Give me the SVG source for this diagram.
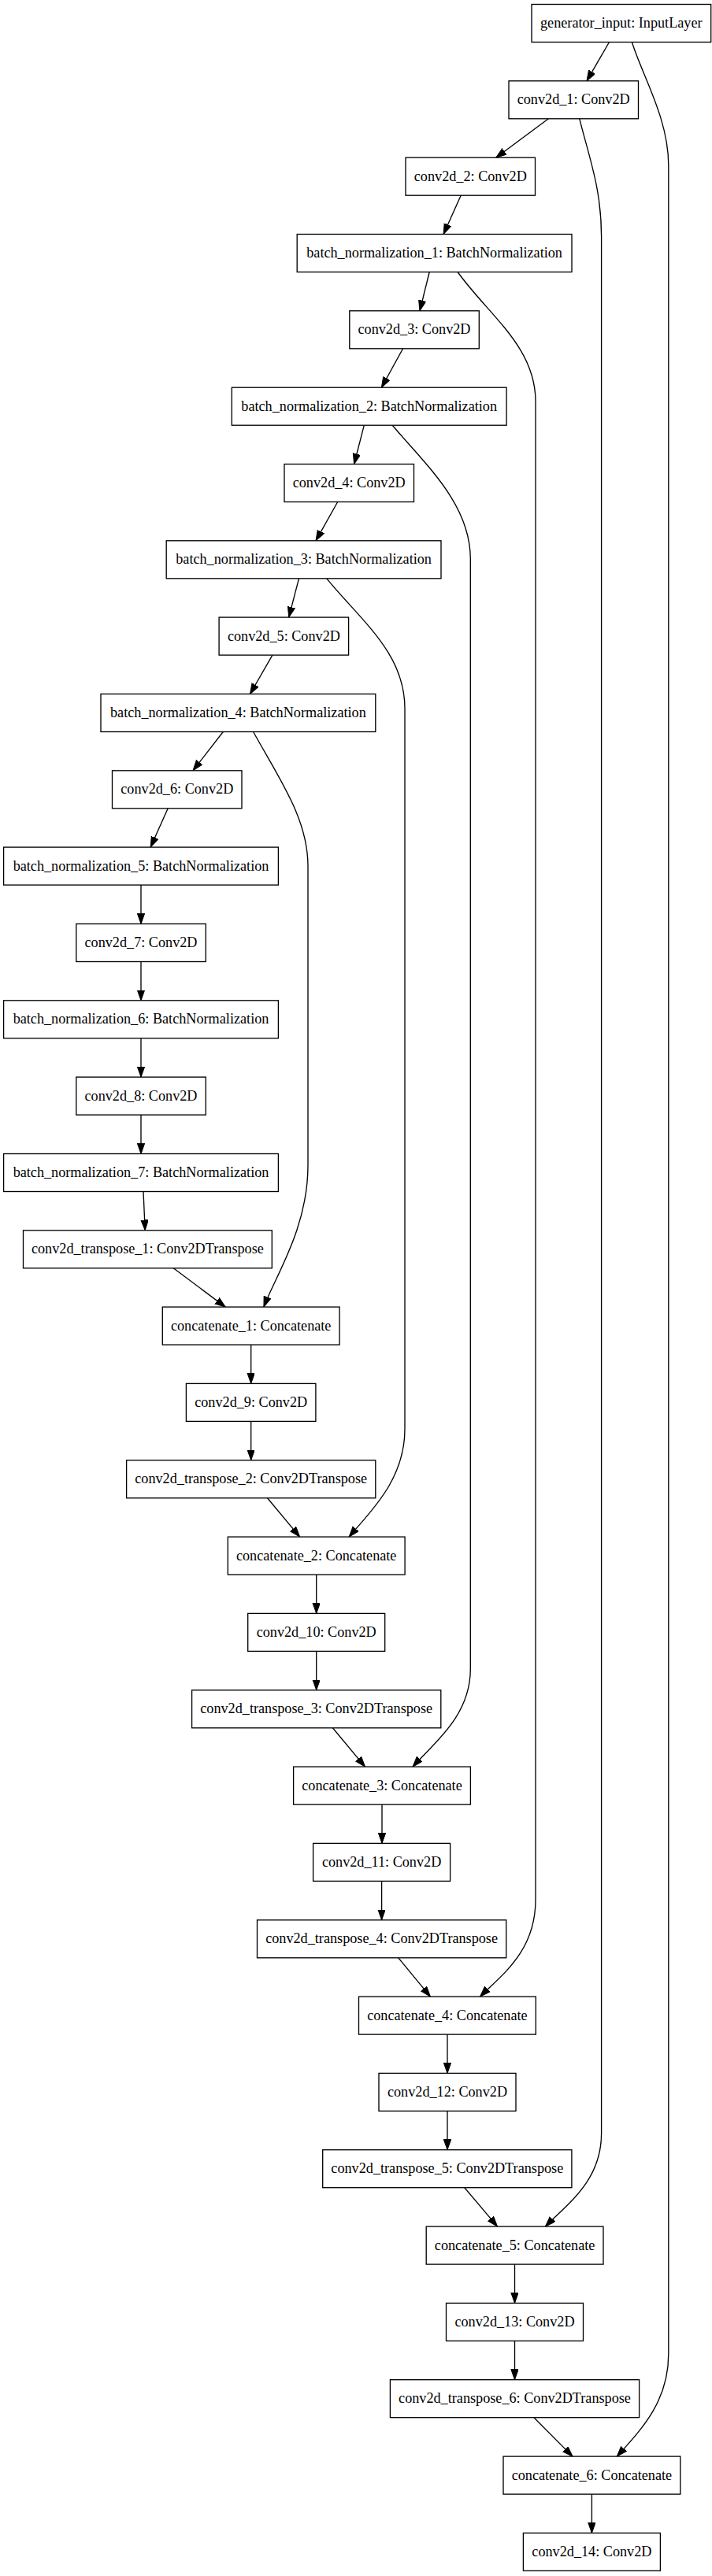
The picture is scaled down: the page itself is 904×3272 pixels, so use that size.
<svg xmlns="http://www.w3.org/2000/svg" width="904" height="3272" viewBox="0 0 904 3272">
<style>
.n rect{fill:#fff;stroke:#000;stroke-width:1.33}
.n text{font-family:"Liberation Serif","Times New Roman",serif;font-size:18.2px;text-anchor:middle;fill:#000}
.e path{fill:none;stroke:#000;stroke-width:1.33;marker-end:url(#ah)}
</style>
<defs>
<marker id="ah" markerUnits="userSpaceOnUse" markerWidth="16" markerHeight="12" refX="13.3" refY="4.7" orient="auto">
<path d="M0,0 L13.3,4.7 L0,9.4 z" fill="#000" stroke="#000" stroke-width="1"/>
</marker>
</defs>
<rect width="904" height="3272" fill="#fff"/>
<g id="edges" class="e">
<path d="M773.5,53.5 L745,102.8"/>
<path d="M696.4,150.8 L629.8,200.2"/>
<path d="M585.2,248.2 L563.1,297.5"/>
<path d="M545.2,345.5 L533,394.8"/>
<path d="M511.6,442.8 L484.4,492.2"/>
<path d="M462.3,540.2 L449.6,589.5"/>
<path d="M428.7,637.5 L401,686.8"/>
<path d="M379.5,734.8 L366.7,784.1"/>
<path d="M345.9,832.1 L317.5,881.5"/>
<path d="M283.3,929.5 L245,978.8"/>
<path d="M213.2,1026.8 L191.2,1076.1"/>
<path d="M179,1124.1 L179,1173.5"/>
<path d="M179,1221.5 L179,1270.8"/>
<path d="M179,1318.8 L179,1368.1"/>
<path d="M179,1416.1 L179,1465.5"/>
<path d="M182,1513.5 L184.2,1562.8"/>
<path d="M220.2,1610.8 L286.2,1660.1"/>
<path d="M318.7,1708.1 L318.7,1757.4"/>
<path d="M318.7,1805.4 L318.7,1854.8"/>
<path d="M339.5,1902.8 L380.6,1952.1"/>
<path d="M401.7,2000.1 L401.7,2049.4"/>
<path d="M401.7,2097.4 L401.7,2146.8"/>
<path d="M422.4,2194.8 L463.5,2244.1"/>
<path d="M485,2292.1 L485,2341.4"/>
<path d="M484.6,2389.4 L484.6,2438.8"/>
<path d="M505.8,2486.8 L546.4,2536.1"/>
<path d="M568,2584.1 L568,2633.4"/>
<path d="M568,2681.4 L568,2730.7"/>
<path d="M589.8,2778.7 L631.5,2828.1"/>
<path d="M653.5,2876.1 L653.5,2925.4"/>
<path d="M653.5,2973.4 L653.5,3022.7"/>
<path d="M677.9,3070.7 L727,3120.1"/>
<path d="M751.4,3168.1 L751.4,3217.4"/>
<path d="M802.4,53.5 C815,95 848.8,150 848.8,210 L848.8,2990 C848.8,3050 815,3085 783.3,3120.1"/>
<path d="M735.8,150.8 C748,200 763.6,240 763.6,300 L763.6,2710 C763.6,2770 720,2800 692.3,2828.1"/>
<path d="M581.1,345.5 C620,400 680,440 680,510 L680,2413 C680,2480 635,2510 609.5,2536.1"/>
<path d="M498.3,540.2 C540,590 597.3,640 597.3,710 L597.3,2120 C597.3,2180 550,2215 524,2244.1"/>
<path d="M414.8,734.8 C460,790 514,830 514,900 L514,1815 C514,1880 470,1920 443.2,1952.1"/>
<path d="M321.6,929.5 C355,990 391,1040 391,1100 L391,1480 C391,1560 350,1620 334.9,1660.1"/>
</g>
<g id="generator_input" class="n"><rect x="675" y="5.5" width="227.7" height="48"/><text x="788.8" y="35">generator_input: InputLayer</text></g>
<g id="conv2d_1" class="n"><rect x="646" y="102.8" width="164.5" height="48"/><text x="728.2" y="132.3">conv2d_1: Conv2D</text></g>
<g id="conv2d_2" class="n"><rect x="515" y="200.2" width="164.5" height="48"/><text x="597.3" y="229.7">conv2d_2: Conv2D</text></g>
<g id="batch_normalization_1" class="n"><rect x="377.2" y="297.5" width="348.8" height="48"/><text x="551.6" y="327">batch_normalization_1: BatchNormalization</text></g>
<g id="conv2d_3" class="n"><rect x="443.8" y="394.8" width="164.5" height="48"/><text x="526" y="424.3">conv2d_3: Conv2D</text></g>
<g id="batch_normalization_2" class="n"><rect x="294.3" y="492.2" width="348.8" height="48"/><text x="468.7" y="521.7">batch_normalization_2: BatchNormalization</text></g>
<g id="conv2d_4" class="n"><rect x="361" y="589.5" width="164.5" height="48"/><text x="443.2" y="619">conv2d_4: Conv2D</text></g>
<g id="batch_normalization_3" class="n"><rect x="211.2" y="686.8" width="348.8" height="48"/><text x="385.6" y="716.3">batch_normalization_3: BatchNormalization</text></g>
<g id="conv2d_5" class="n"><rect x="278.1" y="784.1" width="164.5" height="48"/><text x="360.4" y="813.6">conv2d_5: Conv2D</text></g>
<g id="batch_normalization_4" class="n"><rect x="128" y="881.5" width="348.8" height="48"/><text x="302.4" y="911">batch_normalization_4: BatchNormalization</text></g>
<g id="conv2d_6" class="n"><rect x="142.5" y="978.8" width="164.5" height="48"/><text x="224.8" y="1008.3">conv2d_6: Conv2D</text></g>
<g id="batch_normalization_5" class="n"><rect x="4.6" y="1076.1" width="348.8" height="48"/><text x="179" y="1105.6">batch_normalization_5: BatchNormalization</text></g>
<g id="conv2d_7" class="n"><rect x="96.8" y="1173.5" width="164.5" height="48"/><text x="179" y="1203">conv2d_7: Conv2D</text></g>
<g id="batch_normalization_6" class="n"><rect x="4.6" y="1270.8" width="348.8" height="48"/><text x="179" y="1300.3">batch_normalization_6: BatchNormalization</text></g>
<g id="conv2d_8" class="n"><rect x="96.8" y="1368.1" width="164.5" height="48"/><text x="179" y="1397.6">conv2d_8: Conv2D</text></g>
<g id="batch_normalization_7" class="n"><rect x="4.6" y="1465.5" width="348.8" height="48"/><text x="179" y="1495">batch_normalization_7: BatchNormalization</text></g>
<g id="conv2d_transpose_1" class="n"><rect x="29.5" y="1562.8" width="315.8" height="48"/><text x="187.4" y="1592.3">conv2d_transpose_1: Conv2DTranspose</text></g>
<g id="concatenate_1" class="n"><rect x="206.3" y="1660.1" width="224.8" height="48"/><text x="318.7" y="1689.6">concatenate_1: Concatenate</text></g>
<g id="conv2d_9" class="n"><rect x="236.4" y="1757.4" width="164.5" height="48"/><text x="318.7" y="1786.9">conv2d_9: Conv2D</text></g>
<g id="conv2d_transpose_2" class="n"><rect x="160.6" y="1854.8" width="316.2" height="48"/><text x="318.7" y="1884.3">conv2d_transpose_2: Conv2DTranspose</text></g>
<g id="concatenate_2" class="n"><rect x="289.3" y="1952.1" width="224.8" height="48"/><text x="401.7" y="1981.6">concatenate_2: Concatenate</text></g>
<g id="conv2d_10" class="n"><rect x="314.7" y="2049.4" width="174" height="48"/><text x="401.7" y="2078.9">conv2d_10: Conv2D</text></g>
<g id="conv2d_transpose_3" class="n"><rect x="243.6" y="2146.8" width="316.2" height="48"/><text x="401.7" y="2176.3">conv2d_transpose_3: Conv2DTranspose</text></g>
<g id="concatenate_3" class="n"><rect x="372.6" y="2244.1" width="224.8" height="48"/><text x="485" y="2273.6">concatenate_3: Concatenate</text></g>
<g id="conv2d_11" class="n"><rect x="397.6" y="2341.4" width="174" height="48"/><text x="484.6" y="2370.9">conv2d_11: Conv2D</text></g>
<g id="conv2d_transpose_4" class="n"><rect x="326.5" y="2438.8" width="316.2" height="48"/><text x="484.6" y="2468.3">conv2d_transpose_4: Conv2DTranspose</text></g>
<g id="concatenate_4" class="n"><rect x="455.5" y="2536.1" width="224.8" height="48"/><text x="567.9" y="2565.6">concatenate_4: Concatenate</text></g>
<g id="conv2d_12" class="n"><rect x="481" y="2633.4" width="174" height="48"/><text x="568" y="2662.9">conv2d_12: Conv2D</text></g>
<g id="conv2d_transpose_5" class="n"><rect x="409.7" y="2730.7" width="316.2" height="48"/><text x="567.8" y="2760.2">conv2d_transpose_5: Conv2DTranspose</text></g>
<g id="concatenate_5" class="n"><rect x="541.2" y="2828.1" width="224.8" height="48"/><text x="653.6" y="2857.6">concatenate_5: Concatenate</text></g>
<g id="conv2d_13" class="n"><rect x="566.5" y="2925.4" width="174" height="48"/><text x="653.5" y="2954.9">conv2d_13: Conv2D</text></g>
<g id="conv2d_transpose_6" class="n"><rect x="495.4" y="3022.7" width="316.2" height="48"/><text x="653.5" y="3052.2">conv2d_transpose_6: Conv2DTranspose</text></g>
<g id="concatenate_6" class="n"><rect x="639" y="3120.1" width="224.8" height="48"/><text x="751.4" y="3149.6">concatenate_6: Concatenate</text></g>
<g id="conv2d_14" class="n"><rect x="664.4" y="3217.4" width="174" height="48"/><text x="751.4" y="3246.9">conv2d_14: Conv2D</text></g>
</svg>
